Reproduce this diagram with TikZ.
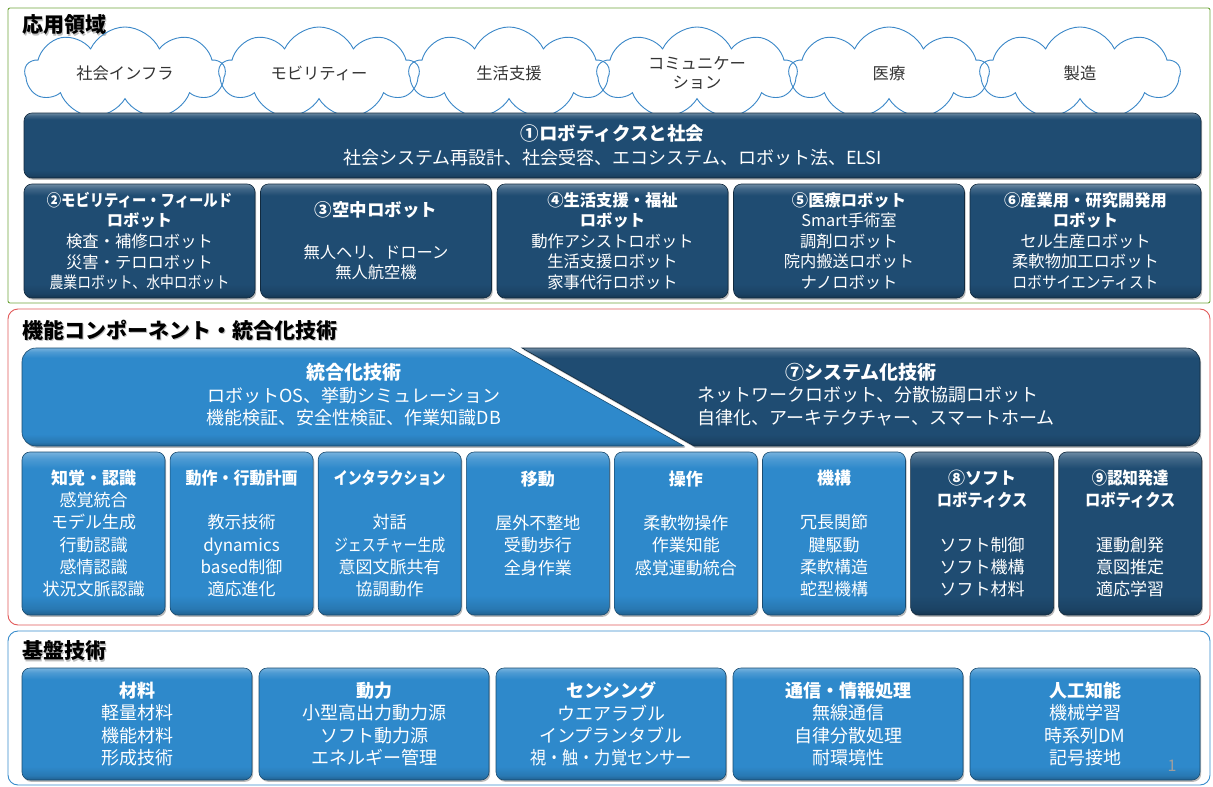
\documentclass[tikz,border=0pt]{standalone}
\usepackage{fontspec}
\setmainfont{Noto Sans CJK JP}
\usepackage{graphicx}
\usetikzlibrary{shadows,shapes.symbols}
\definecolor{dkB}{RGB}{31,76,114}
\definecolor{ltB}{RGB}{46,137,203}
\definecolor{frGreen}{RGB}{112,165,62}
\definecolor{frRed}{RGB}{226,90,90}
\definecolor{frBlue}{RGB}{56,140,204}
\definecolor{cloudB}{RGB}{58,135,200}
\pgfdeclareverticalshading{dkshade}{100bp}{color(0bp)=(dkB!70!black); color(25bp)=(dkB!70!black); color(27bp)=(dkB!88!black); color(31bp)=(dkB); color(70bp)=(dkB); color(73bp)=(dkB!85!white); color(75bp)=(dkB!65!white); color(100bp)=(dkB!65!white)}
\pgfdeclareverticalshading{ltshade}{100bp}{color(0bp)=(ltB!70!black); color(25bp)=(ltB!70!black); color(27bp)=(ltB!88!black); color(31bp)=(ltB); color(70bp)=(ltB); color(73bp)=(ltB!85!white); color(75bp)=(ltB!65!white); color(100bp)=(ltB!65!white)}
\tikzset{
  box/.style={rounded corners=8pt, draw=#1!55!black, line width=0.6pt, text=white, align=center, inner sep=0pt,
    drop shadow={shadow xshift=1.2pt, shadow yshift=-1.8pt, opacity=0.45, fill=black!60}},
  dkbox/.style={box=dkB, shading=dkshade},
  ltbox/.style={box=ltB, shading=ltshade},
  rowA/.style={font=\fontsize{16.3}{20.6}\selectfont, minimum width=231pt, minimum height=114pt},
  rowB/.style={font=\fontsize{17}{22.2}\selectfont, minimum width=143pt, minimum height=163pt},
  rowC/.style={font=\fontsize{18}{22.3}\selectfont, minimum width=230pt, minimum height=112pt},
  cloudst/.style={cloud, cloud ignores aspect, draw=cloudB, line width=0.9pt, cloud puffs=9, cloud puff arc=130,
    minimum width=200pt, minimum height=92pt, inner sep=0pt, text=black!80, font=\fontsize{16.3}{19.5}\selectfont, align=center},
  sect/.style={anchor=west, font=\bfseries\fontsize{21}{24}\selectfont, inner sep=0pt},
  sectshadow/.style={sect, text=black!45, opacity=0.55},
  frame/.style={line width=0.9pt},
  bantext/.style={text=white, align=center, inner sep=0pt, font=\fontsize{18}{22.5}\selectfont},
  ltband/.style={shading=ltshade, draw=ltB!55!black, line width=0.6pt, drop shadow={shadow xshift=1.2pt, shadow yshift=-1.8pt, opacity=0.45, fill=black!60}},
  dkband/.style={shading=dkshade, draw=dkB!55!black, line width=0.6pt, drop shadow={shadow xshift=1.2pt, shadow yshift=-1.8pt, opacity=0.45, fill=black!60}}
}
\begin{document}
\begin{tikzpicture}[x=1pt,y=-1pt]
\useasboundingbox (0,0) rectangle (1213,787);
\fill[white] (0,0) rectangle (1213,787);
% frames
\draw[frame, draw=frGreen, rounded corners=2pt] (8,8) rectangle (1210,303);
\draw[frame, draw=frRed, rounded corners=10pt] (8,309) rectangle (1210,625);
\draw[frame, draw=frBlue, rounded corners=10pt] (8,631) rectangle (1210,785);
% section titles
\node[sectshadow] (h1s) at (23.5,26.5) {応用領域};
\node[sect] (h1) at (22,25) {応用領域};
\node[sectshadow] (h2s) at (23.5,331.5) {機能コンポーネント・統合化技術};
\node[sect] (h2) at (22,330) {機能コンポーネント・統合化技術};
\node[sectshadow] (h3s) at (23.5,652.5) {基盤技術};
\node[sect] (h3) at (22,651) {基盤技術};
% clouds
\node[cloudst] (c1) at (125,73) {社会インフラ};
\node[cloudst] (c2) at (319,73) {モビリティー};
\node[cloudst] (c3) at (509,73) {生活支援};
\node[cloudst] (c4) at (697,73) {コミュニケー\\ション};
\node[cloudst] (c5) at (889,73) {医療};
\node[cloudst] (c6) at (1080,73) {製造};
% box 1
\node[dkbox, minimum width=1177pt, minimum height=65pt, font=\fontsize{18}{24}\selectfont] (b1) at (612.5,145.5)
  {{\bfseries\fontsize{18.5}{24}\selectfont ①ロボティクスと社会}\\社会システム再設計、社会受容、エコシステム、ロボット法、ELSI};
% row A
\node[dkbox, rowA] (b2) at (139.5,241) {\scalebox{0.88}[1]{\bfseries ②モビリティー・フィールド}\\{\bfseries ロボット}\\検査・補修ロボット\\災害・テロロボット\\\scalebox{0.85}[1]{農業ロボット、水中ロボット}};
\node[dkbox, rowA] (b3) at (376,241) {{\bfseries\fontsize{17.5}{20.6}\selectfont ③空中ロボット}\\\mbox{}\\無人ヘリ、ドローン\\無人航空機};
\node[dkbox, rowA] (b4) at (612.5,241) {{\bfseries ④生活支援・福祉}\\{\bfseries ロボット}\\動作アシストロボット\\生活支援ロボット\\家事代行ロボット};
\node[dkbox, rowA] (b5) at (849,241) {{\bfseries ⑤医療ロボット}\\Smart手術室\\調剤ロボット\\院内搬送ロボット\\ナノロボット};
\node[dkbox, rowA] (b6) at (1085.5,241) {{\bfseries ⑥産業用・研究開発用}\\{\bfseries ロボット}\\セル生産ロボット\\柔軟物加工ロボット\\\scalebox{0.9}[1]{ロボサイエンティスト}};
% banner
\path[ltband] (510,348) -- (36,348) arc[start angle=270, end angle=180, radius=14] -- (22,432) arc[start angle=180, end angle=90, radius=14] -- (684,446) -- cycle;
\path[dkband] (522,348) -- (1186,348) arc[start angle=270, end angle=360, radius=14] -- (1200,432) arc[start angle=0, end angle=90, radius=14] -- (694,446) -- cycle;
\node[bantext] (tI) at (354,395) {{\bfseries\fontsize{19}{22.5}\selectfont 統合化技術}\\ロボットOS、挙動シミュレーション\\機能検証、安全性検証、作業知識DB};
\node[bantext] (t7h) at (861,372) {\bfseries\fontsize{19}{22.5}\selectfont ⑦システム化技術};
\node[bantext, anchor=west, align=left] (t7) at (697,406) {ネットワークロボット、分散協調ロボット\\自律化、アーキテクチャー、スマートホーム};
% row B
\node[ltbox, rowB] (s1) at (93.5,533.5) {{\bfseries 知覚・認識}\\感覚統合\\モデル生成\\行動認識\\感情認識\\状況文脈認識};
\node[ltbox, rowB] (s2) at (241.6,533.5) {\scalebox{0.94}[1]{\bfseries 動作・行動計画}\\\mbox{}\\教示技術\\dynamics\\based制御\\適応進化};
\node[ltbox, rowB] (s3) at (389.7,533.5) {\scalebox{0.82}[1]{\bfseries インタラクション}\\\mbox{}\\対話\\\scalebox{0.82}[1]{ジェスチャー生成}\\意図文脈共有\\協調動作};
\node[ltbox, rowB] (s4) at (537.8,533.5) {{\bfseries 移動}\\\mbox{}\\屋外不整地\\受動歩行\\全身作業\\\mbox{}};
\node[ltbox, rowB] (s5) at (685.9,533.5) {{\bfseries 操作}\\\mbox{}\\柔軟物操作\\作業知能\\感覚運動統合\\\mbox{}};
\node[ltbox, rowB] (s6) at (834,533.5) {{\bfseries 機構}\\\mbox{}\\冗長関節\\腱駆動\\柔軟構造\\蛇型機構};
\node[dkbox, rowB] (s7) at (982.1,533.5) {{\bfseries ⑧ソフト}\\\scalebox{0.9}[1]{\bfseries ロボティクス}\\\mbox{}\\ソフト制御\\ソフト機構\\ソフト材料};
\node[dkbox, rowB] (s8) at (1130.2,533.5) {\scalebox{0.9}[1]{\bfseries ⑨認知発達}\\\scalebox{0.9}[1]{\bfseries ロボティクス}\\\mbox{}\\運動創発\\意図推定\\適応学習};
% row C
\node[ltbox, rowC] (f1) at (137,724) {{\bfseries 材料}\\軽量材料\\機能材料\\形成技術};
\node[ltbox, rowC] (f2) at (374,724) {{\bfseries 動力}\\小型高出力動力源\\ソフト動力源\\エネルギー管理};
\node[ltbox, rowC] (f3) at (611,724) {{\bfseries センシング}\\ウエアラブル\\インプランタブル\\\scalebox{0.9}[1]{視・触・力覚センサー}};
\node[ltbox, rowC] (f4) at (848,724) {{\bfseries 通信・情報処理}\\無線通信\\自律分散処理\\耐環境性};
\node[ltbox, rowC] (f5) at (1085,724) {{\bfseries 人工知能}\\機械学習\\時系列DM\\記号接地};
\node[text=black!38, font=\fontsize{16}{18}\selectfont, inner sep=0pt] (pg) at (1172,766) {1};
\end{tikzpicture}
\end{document}
